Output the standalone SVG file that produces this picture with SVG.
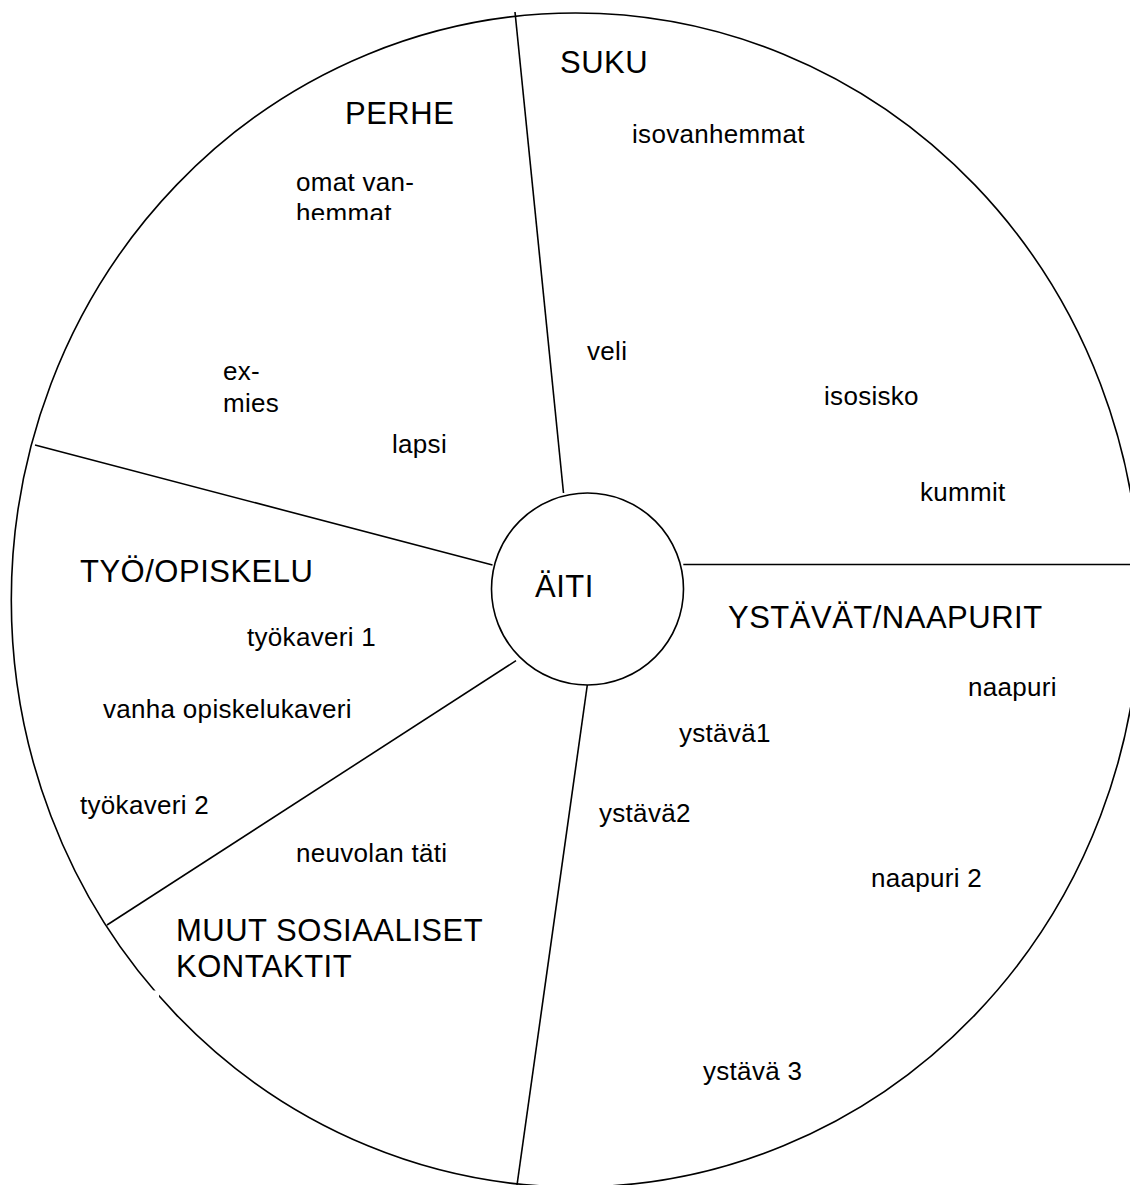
<svg xmlns="http://www.w3.org/2000/svg" width="1130" height="1185" viewBox="0 0 1130 1185">
<style>
.ln{stroke:#000;stroke-width:1.6;fill:none}
.h{font-family:"Liberation Sans",Arial,sans-serif;font-size:31px;letter-spacing:0.5px;fill:#000}
.t{font-family:"Liberation Sans",Arial,sans-serif;font-size:26px;letter-spacing:0.3px;fill:#000}
</style>
<defs>
<clipPath id="clipOmat"><rect x="280" y="160" width="160" height="60"/></clipPath>
</defs>
<rect x="0" y="0" width="1130" height="1185" fill="#fff"/>
<g id="outer">
<ellipse class="ln" cx="575.7" cy="600" rx="564.4" ry="587"/>
<rect x="152.5" y="990.5" width="6.5" height="6.5" fill="#fff"/>
</g>
<g id="connectors">
<line class="ln" x1="515" y1="12" x2="563.5" y2="493"/>
<line class="ln" x1="35" y1="445" x2="492.5" y2="565"/>
<line class="ln" x1="683.3" y1="564.5" x2="1130" y2="564.5"/>
<line class="ln" x1="107" y1="925" x2="516" y2="660.7"/>
<line class="ln" x1="587.3" y1="685" x2="517" y2="1185"/>
</g>
<g id="aiti">
<circle class="ln" cx="587.5" cy="589" r="96"/>
<text class="h" x="535" y="597">ÄITI</text>
</g>
<g id="perhe">
<text class="h" x="345" y="124">PERHE</text>
<text class="t" x="296" y="191">omat van-</text>
<text class="t" x="296" y="222" clip-path="url(#clipOmat)">hemmat</text>
<text class="t" x="223" y="380">ex-</text>
<text class="t" x="223" y="412">mies</text>
<text class="t" x="392" y="453">lapsi</text>
</g>
<g id="suku">
<text class="h" x="560" y="73">SUKU</text>
<text class="t" x="632" y="143">isovanhemmat</text>
<text class="t" x="587" y="360">veli</text>
<text class="t" x="824" y="405">isosisko</text>
<text class="t" x="920" y="501">kummit</text>
</g>
<g id="tyo">
<text class="h" x="80" y="582">TYÖ/OPISKELU</text>
<text class="t" x="247" y="646">työkaveri 1</text>
<text class="t" x="103" y="718">vanha opiskelukaveri</text>
<text class="t" x="80" y="814">työkaveri 2</text>
</g>
<g id="ystavat">
<text class="h" x="728" y="628">YSTÄVÄT/NAAPURIT</text>
<text class="t" x="968" y="696">naapuri</text>
<text class="t" x="679" y="742">ystävä1</text>
<text class="t" x="599" y="822">ystävä2</text>
<text class="t" x="871" y="887">naapuri 2</text>
<text class="t" x="703" y="1080">ystävä 3</text>
</g>
<g id="muut">
<text class="t" x="296" y="862">neuvolan täti</text>
<text class="h" x="176" y="941">MUUT SOSIAALISET</text>
<text class="h" x="176" y="977">KONTAKTIT</text>
</g>
</svg>
